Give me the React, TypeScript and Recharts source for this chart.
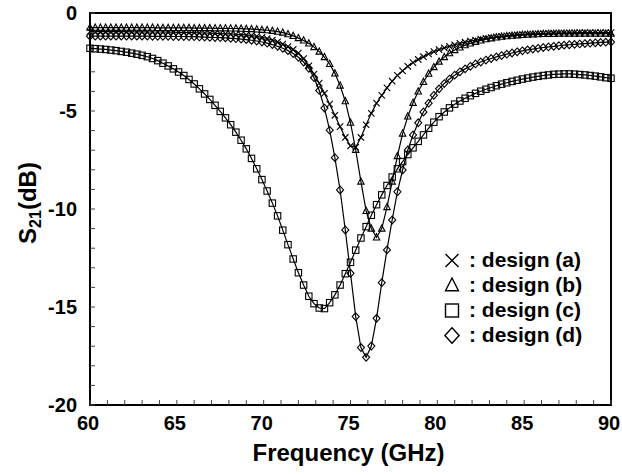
import React from 'react';
import { LineChart, Line, XAxis, YAxis, ReferenceArea, Legend } from 'recharts';

const FONT = '"Liberation Sans", Arial, Helvetica, sans-serif';

// frequency sweep in GHz (one marker every 0.3 GHz)
const freq = [
  60, 60.3, 60.6, 60.9, 61.2, 61.5, 61.8, 62.1, 62.4, 62.7,
  63, 63.3, 63.6, 63.9, 64.2, 64.5, 64.8, 65.1, 65.4, 65.7,
  66, 66.3, 66.6, 66.9, 67.2, 67.5, 67.8, 68.1, 68.4, 68.7,
  69, 69.3, 69.6, 69.9, 70.2, 70.5, 70.8, 71.1, 71.4, 71.7,
  72, 72.3, 72.6, 72.9, 73.2, 73.5, 73.8, 74.1, 74.4, 74.7,
  75, 75.3, 75.6, 75.9, 76.2, 76.5, 76.8, 77.1, 77.4, 77.7,
  78, 78.3, 78.6, 78.9, 79.2, 79.5, 79.8, 80.1, 80.4, 80.7,
  81, 81.3, 81.6, 81.9, 82.2, 82.5, 82.8, 83.1, 83.4, 83.7,
  84, 84.3, 84.6, 84.9, 85.2, 85.5, 85.8, 86.1, 86.4, 86.7,
  87, 87.3, 87.6, 87.9, 88.2, 88.5, 88.8, 89.1, 89.4, 89.7,
  90,
];

// S21 (dB) per design
const designA = [
  -0.95, -0.95, -0.95, -0.95, -0.95, -0.95, -0.95, -0.95, -0.96, -0.96,
  -0.96, -0.96, -0.97, -0.97, -0.97, -0.98, -0.98, -0.99, -0.99, -1.0,
  -1.0, -1.01, -1.02, -1.03, -1.04, -1.05, -1.06, -1.07, -1.09, -1.1,
  -1.12, -1.15, -1.19, -1.24, -1.3, -1.38, -1.47, -1.58, -1.71, -1.86,
  -2.04, -2.33, -2.7, -3.12, -3.58, -4.1, -4.65, -5.22, -5.8, -6.35,
  -6.78, -6.85, -6.35, -5.7, -5.12, -4.6, -4.2, -3.82, -3.48, -3.18,
  -2.95, -2.72, -2.53, -2.37, -2.23, -2.09, -1.97, -1.87, -1.78, -1.7,
  -1.62, -1.55, -1.49, -1.43, -1.38, -1.33, -1.29, -1.25, -1.22, -1.19,
  -1.16, -1.14, -1.12, -1.1, -1.08, -1.07, -1.06, -1.05, -1.04, -1.03,
  -1.02, -1.02, -1.01, -1.01, -1.0, -1.0, -1.0, -1.0, -1.0, -1.0,
  -1.0,
];

const designB = [
  -0.75, -0.75, -0.75, -0.75, -0.75, -0.75, -0.75, -0.75, -0.75, -0.75,
  -0.75, -0.75, -0.75, -0.76, -0.76, -0.76, -0.76, -0.76, -0.76, -0.76,
  -0.77, -0.77, -0.77, -0.77, -0.78, -0.78, -0.78, -0.79, -0.79, -0.8,
  -0.81, -0.82, -0.84, -0.86, -0.88, -0.91, -0.95, -1.0, -1.08, -1.17,
  -1.28, -1.4, -1.55, -1.74, -1.97, -2.25, -2.6, -3.08, -3.7, -4.5,
  -5.6, -6.98, -8.6, -10.1, -11.0, -11.45, -11.0, -9.9, -8.6, -7.3,
  -6.15, -5.28, -4.58, -4.0, -3.52, -3.1, -2.76, -2.48, -2.25, -2.05,
  -1.89, -1.76, -1.64, -1.55, -1.47, -1.4, -1.34, -1.29, -1.25, -1.21,
  -1.18, -1.16, -1.14, -1.12, -1.1, -1.09, -1.08, -1.07, -1.06, -1.06,
  -1.05, -1.05, -1.05, -1.05, -1.05, -1.05, -1.05, -1.05, -1.05, -1.05,
  -1.05,
];

const designC = [
  -1.8, -1.82, -1.84, -1.86, -1.89, -1.92, -1.96, -2.0, -2.05, -2.1,
  -2.16, -2.23, -2.32, -2.43, -2.56, -2.7, -2.85, -3.01, -3.19, -3.39,
  -3.62, -3.87, -4.13, -4.41, -4.71, -5.02, -5.35, -5.7, -6.08, -6.49,
  -6.93, -7.42, -7.95, -8.5, -9.08, -9.7, -10.35, -11.08, -11.82, -12.55,
  -13.25, -13.88, -14.45, -14.83, -15.05, -15.08, -14.78, -14.38, -13.88, -13.3,
  -12.72, -12.1, -11.48, -10.9, -10.32, -9.78, -9.28, -8.8, -8.37, -7.95,
  -7.58, -7.22, -6.88, -6.55, -6.22, -5.88, -5.57, -5.29, -5.05, -4.84,
  -4.65, -4.49, -4.35, -4.22, -4.1, -3.99, -3.89, -3.8, -3.71, -3.63,
  -3.56, -3.49, -3.43, -3.37, -3.32, -3.27, -3.23, -3.19, -3.16, -3.13,
  -3.12, -3.11, -3.11, -3.12, -3.14, -3.16, -3.19, -3.22, -3.26, -3.3,
  -3.33,
];

const designD = [
  -1.18, -1.18, -1.18, -1.18, -1.18, -1.18, -1.18, -1.18, -1.18, -1.18,
  -1.18, -1.18, -1.19, -1.19, -1.19, -1.19, -1.2, -1.2, -1.2, -1.21,
  -1.21, -1.22, -1.23, -1.24, -1.25, -1.26, -1.27, -1.29, -1.31, -1.33,
  -1.36, -1.39, -1.43, -1.48, -1.54, -1.61, -1.7, -1.8, -1.92, -2.07,
  -2.26, -2.5, -2.82, -3.3, -3.95, -4.85, -5.98, -7.38, -9.03, -11.07,
  -13.28, -15.49, -17.07, -17.57, -16.99, -15.58, -13.76, -12.09, -10.56, -9.12,
  -8.01, -6.99, -6.22, -5.6, -5.05, -4.6, -4.2, -3.87, -3.6, -3.37,
  -3.17, -3.0, -2.85, -2.72, -2.6, -2.5, -2.4, -2.32, -2.24, -2.17,
  -2.1, -2.04, -1.98, -1.93, -1.88, -1.84, -1.8, -1.76, -1.73, -1.7,
  -1.67, -1.64, -1.62, -1.6, -1.58, -1.56, -1.54, -1.52, -1.5, -1.49,
  -1.48,
];

const xTicks = [
  60, 61, 62, 63, 64, 65, 66, 67, 68, 69, 70, 71, 72, 73, 74, 75,
  76, 77, 78, 79, 80, 81, 82, 83, 84, 85, 86, 87, 88, 89, 90,
];
const yTicks = [
  -20, -19, -18, -17, -16, -15, -14, -13, -12, -11, -10,
  -9, -8, -7, -6, -5, -4, -3, -2, -1, 0,
];

const seriesKeys = ['a', 'b', 'c', 'd'];
const seriesNames = ['design (a)', 'design (b)', 'design (c)', 'design (d)'];

type Shape = 'cross' | 'triangle' | 'square' | 'diamond';
const shapes: Shape[] = ['cross', 'triangle', 'square', 'diamond'];

const data = freq.map((f, i) => ({
  f,
  a: designA[i],
  b: designB[i],
  c: designC[i],
  d: designD[i],
}));

const Marker = ({ shape, cx, cy, r, sw }: { shape: Shape; cx: number; cy: number; r: number; sw: number }) => {
  const common = { stroke: '#000', strokeWidth: sw, fill: 'none' };
  if (shape === 'cross') {
    return <path d={`M${cx - r},${cy - r}L${cx + r},${cy + r}M${cx - r},${cy + r}L${cx + r},${cy - r}`} {...common} />;
  }
  if (shape === 'triangle') {
    return <path d={`M${cx},${cy - r * 1.15}L${cx + r},${cy + r * 0.8}L${cx - r},${cy + r * 0.8}Z`} {...common} />;
  }
  if (shape === 'square') {
    return <rect x={cx - r} y={cy - r} width={2 * r} height={2 * r} {...common} />;
  }
  return <path d={`M${cx},${cy - r * 1.2}L${cx + r * 1.1},${cy}L${cx},${cy + r * 1.2}L${cx - r * 1.1},${cy}Z`} {...common} />;
};

const makeDot = (shape: Shape) => (props: any) => {
  const { cx, cy, index } = props;
  if (cx == null || cy == null) return <g key={`${shape}-${index}`} />;
  return (
    <g key={`${shape}-${index}`}>
      <Marker shape={shape} cx={cx} cy={cy} r={3.2} sw={1.1} />
    </g>
  );
};

const XTick = (props: any) => {
  const { x, y, payload } = props;
  const v = payload.value;
  return (
    <g>
      <line x1={x} x2={x} y1={y} y2={y - 5} stroke="#444" strokeWidth={1} />
      {v % 5 === 0 && (
        <text x={x - 2} y={y + 25} textAnchor="middle" fontFamily={FONT} fontWeight="bold" fontSize={20} fill="#000">
          {v}
        </text>
      )}
    </g>
  );
};

const YTick = (props: any) => {
  const { x, y, payload } = props;
  const v = payload.value;
  return (
    <g>
      <line x1={x} x2={x + 5} y1={y} y2={y} stroke="#444" strokeWidth={1} />
      {v % 5 === 0 && (
        <text x={x - 13} y={y + 7} textAnchor="end" fontFamily={FONT} fontWeight="bold" fontSize={20} fill="#000">
          {v}
        </text>
      )}
    </g>
  );
};

const XTitle = (props: any) => {
  const vb = props.viewBox || { x: 90, y: 405, width: 521, height: 70 };
  return (
    <text x={vb.x + vb.width / 2 - 2} y={vb.y + 56} textAnchor="middle" fontFamily={FONT} fontWeight="bold" fontSize={24} fill="#000">
      Frequency (GHz)
    </text>
  );
};

const YTitle = (props: any) => {
  const vb = props.viewBox || { x: 0, y: 13, width: 90, height: 392 };
  const cx = vb.x + 36;
  const cy = vb.y + vb.height / 2 - 6;
  return (
    <text
      x={cx}
      y={cy}
      transform={`rotate(-90, ${cx}, ${cy})`}
      textAnchor="middle"
      fontFamily={FONT}
      fontWeight="bold"
      fontSize={24}
      fill="#000"
    >
      S<tspan fontSize={16} dy={5}>21</tspan>
      <tspan dy={-5}>(dB)</tspan>
    </text>
  );
};

const LegendBox = () => (
  <div style={{ fontFamily: FONT, fontWeight: 'bold', fontSize: 21, color: '#000' }}>
    {shapes.map((s, i) => (
      <div key={s} style={{ display: 'flex', alignItems: 'center', height: 25 }}>
        <svg width={18} height={18} style={{ marginRight: 8, display: 'block' }}>
          <Marker shape={s} cx={9} cy={9.5} r={6.5} sw={1.4} />
        </svg>
        <span style={{ whiteSpace: 'nowrap' }}>: {seriesNames[i]}</span>
      </div>
    ))}
  </div>
);

export default function App() {
  return (
    <div style={{ width: 622, height: 475, background: '#fff' }}>
      <style>{'body{margin:0;background:#fff}'}</style>
      <LineChart width={622} height={475} data={data} margin={{ top: 13, right: 11, left: 0, bottom: 0 }}>
        <XAxis
          dataKey="f"
          type="number"
          domain={[60, 90]}
          ticks={xTicks}
          interval={0}
          tickSize={0}
          tickMargin={0}
          axisLine={false}
          tick={<XTick />}
          height={70}
          label={{ content: <XTitle /> }}
        />
        <YAxis
          type="number"
          domain={[-20, 0]}
          ticks={yTicks}
          interval={0}
          tickSize={0}
          tickMargin={0}
          axisLine={false}
          tick={<YTick />}
          width={90}
          label={{ content: <YTitle /> }}
        />
        {seriesKeys.map((k, i) => (
          <Line
            key={k}
            dataKey={k}
            name={seriesNames[i]}
            type="linear"
            stroke="#000"
            strokeWidth={1.2}
            dot={makeDot(shapes[i])}
            activeDot={false}
            isAnimationActive={false}
          />
        ))}
        <ReferenceArea x1={60} x2={90} y1={-20} y2={0} fill="none" fillOpacity={0} stroke="#000" strokeWidth={2} />
        <Legend
          layout="horizontal"
          verticalAlign="middle"
          align="center"
          content={() => <LegendBox />}
          wrapperStyle={{ left: 443, top: 247, width: 'auto', height: 'auto' }}
        />
      </LineChart>
    </div>
  );
}
